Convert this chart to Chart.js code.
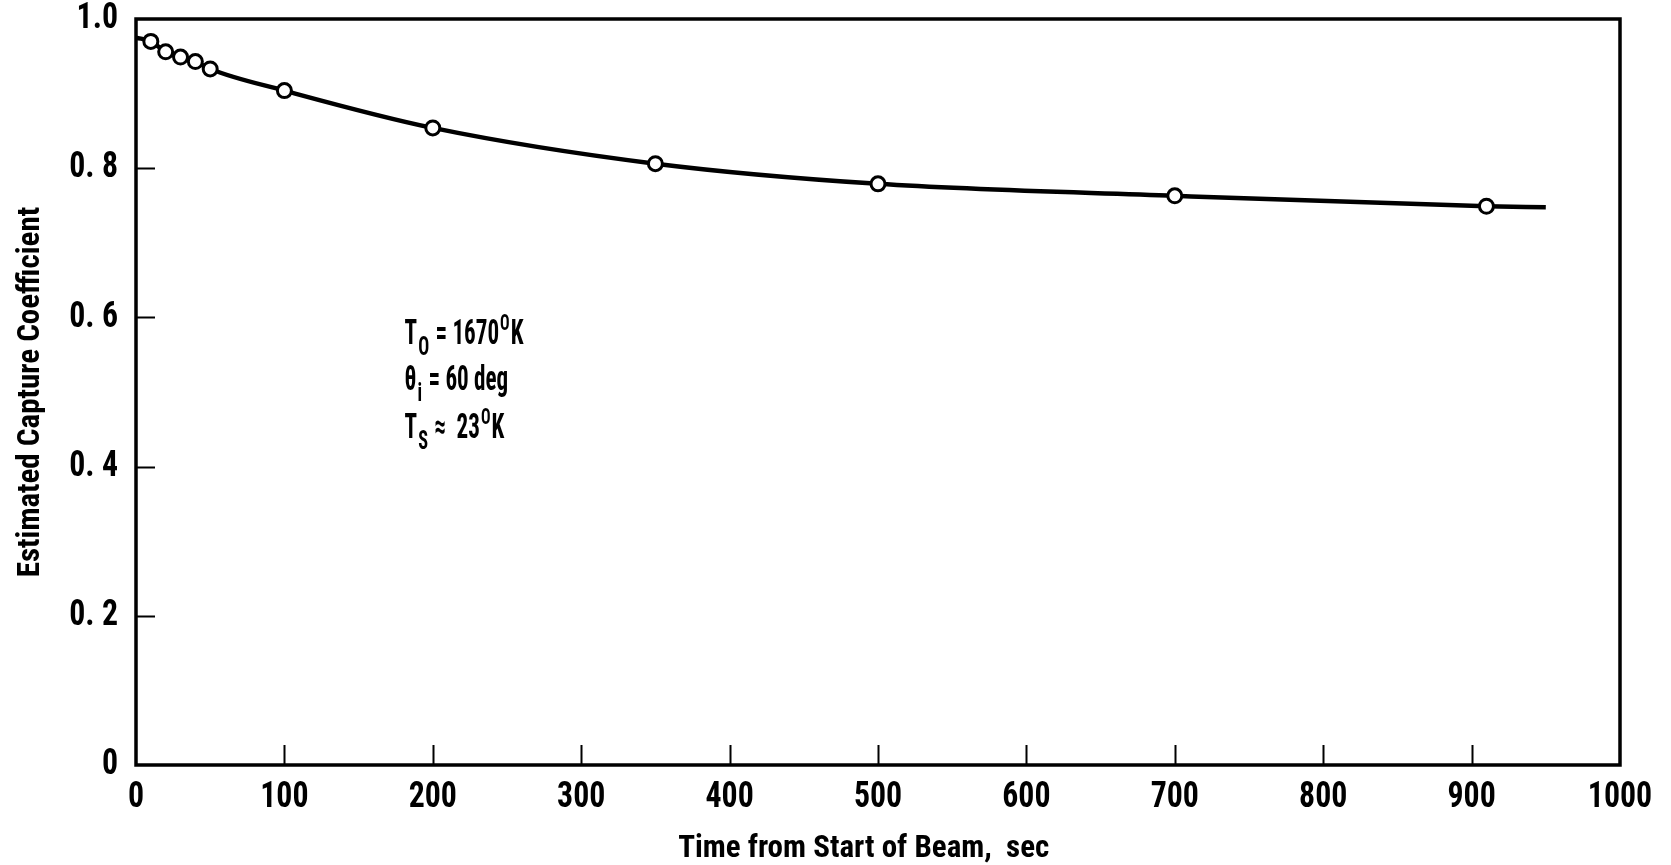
<!DOCTYPE html>
<html><head><meta charset="utf-8">
<script src="https://cdn.jsdelivr.net/npm/chart.js@4.4.1/dist/chart.umd.min.js"></script>
<style>html,body{margin:0;padding:0;background:#fff;}#wrap{width:1671px;height:865px;}</style>
</head><body><div id="wrap"><canvas id="c" width="1671" height="865"></canvas></div>
<script>
// ---- data ----
const timeSec = [10, 20, 30, 40, 50, 100, 200, 350, 500, 700, 910];
const captureCoef = [0.970, 0.956, 0.949, 0.943, 0.933, 0.904, 0.854, 0.806, 0.779, 0.763, 0.749];
const curveTime = [0, 10, 20, 30, 40, 50, 100, 200, 350, 500, 700, 910, 950];
const curveCoef = [0.975, 0.970, 0.956, 0.949, 0.943, 0.933, 0.904, 0.854, 0.806, 0.779, 0.763, 0.749, 0.7475];
const xTickLabels = ['0', '100', '200', '300', '400', '500', '600', '700', '800', '900', '1000'];
const yTickLabels = ['0', '0. 2', '0. 4', '0. 6', '0. 8', '1.0'];
const xTitle = 'Time from Start of Beam,  sec    ';
const yTitle = 'Estimated Capture Coefficient';
const noteLines = [
  [['T', ''], ['O', 'sub'], [' = 1670', ''], ['O', 'sup'], ['K', '']],
  [['\u03b8', ''], ['i', 'sub'], [' = 60 deg', '']],
  [['T', ''], ['S', 'sub'], [' \u2248  23', ''], ['O', 'sup'], ['K', '']]
];

const FONT = '"Roboto Condensed", "Liberation Sans Narrow", "DejaVu Sans Condensed", sans-serif';
// horizontal condensing per font size (the original lettering is very narrow)
const condense = {37: 0.86, 35: 0.66, 26: 0.7, 22: 0.72};

function sizeOf(font) { const m = /(\d+(?:\.\d+)?)px/.exec(font); return m ? Math.round(parseFloat(m[1])) : 0; }

const pts = timeSec.map((t, i) => ({x: t, y: captureCoef[i]}));
const curve = curveTime.map((t, i) => ({x: t, y: curveCoef[i]}));

const condensePlugin = {
  id: 'condense',
  beforeInit(chart) {
    const ctx = chart.ctx;
    const orig = ctx.fillText.bind(ctx);
    ctx.fillText = function (text, x, y, maxW) {
      const f = condense[sizeOf(ctx.font)] || 1;
      if (f === 1) return orig(text, x, y, maxW);
      ctx.save();
      ctx.translate(x, y);
      ctx.scale(f, 1);
      orig(text, 0, 0);
      ctx.restore();
    };
  }
};

const framePlugin = {
  id: 'frame',
  beforeDatasetsDraw(chart) {
    const {ctx, chartArea: a, scales: {x, y}} = chart;
    ctx.save();
    ctx.strokeStyle = '#000';
    ctx.lineWidth = 3.5;
    ctx.strokeRect(a.left, a.top, a.right - a.left, a.bottom - a.top);
    ctx.lineWidth = 2;
    ctx.beginPath();
    x.ticks.forEach(t => {
      if (t.value <= x.min || t.value >= x.max) return;
      const px = Math.round(x.getPixelForValue(t.value)) + 0.5;
      ctx.moveTo(px, a.bottom);
      ctx.lineTo(px, a.bottom - 20);
    });
    y.ticks.forEach(t => {
      if (t.value <= y.min + 1e-9 || t.value >= y.max - 1e-9) return;
      const py = Math.round(y.getPixelForValue(t.value)) + 0.5;
      ctx.moveTo(a.left, py);
      ctx.lineTo(a.left + 19, py);
    });
    ctx.stroke();
    ctx.restore();
  }
};

const notePlugin = {
  id: 'note',
  afterDatasetsDraw(chart, args, opts) {
    const {ctx, scales: {x, y}} = chart;
    ctx.save();
    ctx.fillStyle = '#000';
    ctx.textBaseline = 'alphabetic';
    ctx.textAlign = 'left';
    const x0 = x.getPixelForValue(opts.xValue);
    noteLines.forEach((line, li) => {
      let px = x0;
      const base = y.getPixelForValue(opts.baselines[li]);
      line.forEach(([txt, kind]) => {
        let size = 35, dy = 0;
        if (kind === 'sub') { size = 26; dy = 11; }
        if (kind === 'sup') { size = 22; dy = -14; }
        ctx.font = `bold ${size}px ${FONT}`;
        ctx.fillText(txt, px, base + dy);
        px += ctx.measureText(txt).width * (condense[size] || 1) + 1;
      });
    });
    ctx.restore();
  }
};

new Chart(document.getElementById('c'), {
  type: 'scatter',
  data: {
    datasets: [
      {
        data: curve, showLine: true, borderColor: '#000', borderWidth: 4.5,
        pointRadius: 0, cubicInterpolationMode: 'monotone', fill: false, order: 2
      },
      {
        data: pts, showLine: false, pointRadius: 7, pointBorderWidth: 3,
        pointBackgroundColor: '#fff', pointBorderColor: '#000', order: 1
      }
    ]
  },
  options: {
    responsive: false, animation: false, devicePixelRatio: 1,
    layout: {padding: {top: 19, right: 51, left: 0, bottom: 0}},
    plugins: {
      legend: {display: false}, tooltip: {enabled: false},
      note: {xValue: 181, baselines: [0.565, 0.503, 0.439]}
    },
    scales: {
      x: {
        type: 'linear', min: 0, max: 1000,
        grid: {display: false, drawTicks: false},
        border: {display: false},
        ticks: {
          stepSize: 100, padding: 14, color: '#000', maxRotation: 0, autoSkip: false,
          font: {family: FONT, size: 37, weight: 'bold', lineHeight: 1},
          callback: (v, i) => xTickLabels[i]
        },
        title: {
          display: true, text: xTitle, color: '#000', padding: {top: 0, bottom: 0},
          font: {family: FONT, size: 31, weight: 'bold', lineHeight: 1.0}
        },
        afterFit: s => { s.height = 100; s.paddingLeft = 0; s.paddingRight = 0; }
      },
      y: {
        type: 'linear', min: 0, max: 1,
        grid: {display: false, drawTicks: false},
        border: {display: false},
        ticks: {
          stepSize: 0.2, padding: 18, color: '#000', autoSkip: false,
          font: {family: FONT, size: 37, weight: 'bold', lineHeight: 1},
          callback: (v, i) => yTickLabels[i]
        },
        title: {
          display: true, text: yTitle, color: '#000', padding: {top: 13, bottom: 0},
          font: {family: FONT, size: 31, weight: 'bold', lineHeight: 1.2}
        },
        afterFit: s => { s.width = 136; s.paddingTop = 0; s.paddingBottom = 0; }
      }
    }
  },
  plugins: [condensePlugin, framePlugin, notePlugin]
});
</script>
</body></html>
